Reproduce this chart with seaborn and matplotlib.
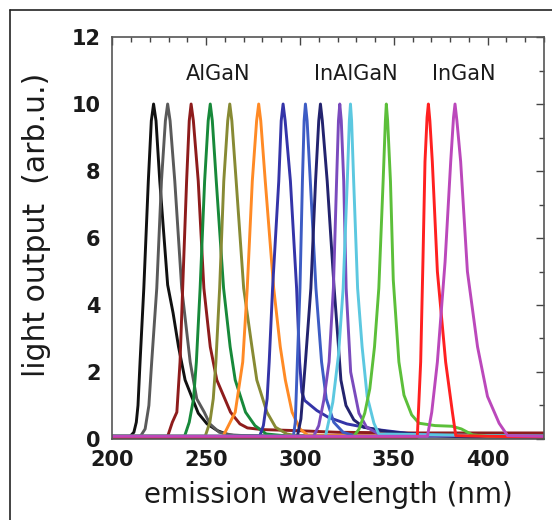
import matplotlib
matplotlib.use("Agg")
import matplotlib.pyplot as plt
from matplotlib.lines import Line2D
from matplotlib.ticker import MultipleLocator
import numpy as np
import pandas as pd
import seaborn as sns

# Emission spectra of UV LEDs (wavelength in nm, light output in arb. u.)
black_wl = [200, 209.5, 211.5, 212.8, 213.7, 214.8, 216.8, 219.2, 220.8, 222.0, 223.3, 225.3, 229.5, 232.4, 235.3, 238.8, 245.8, 250.5, 256.0, 262.0, 280.0, 430]
black_i = [0.08, 0.08, 0.20, 0.50, 1.00, 2.30, 4.50, 7.70, 9.50, 10.0, 9.50, 7.70, 4.60, 3.76, 2.75, 1.76, 0.77, 0.45, 0.25, 0.12, 0.08, 0.08]

gray_wl = [200, 215.0, 217.5, 219.5, 221.0, 223.7, 226.2, 228.3, 229.5, 230.8, 233.3, 237.0, 241.5, 245.0, 249.0, 252.0, 257.0, 265.0, 430]
gray_i = [0.08, 0.08, 0.30, 1.00, 2.30, 4.50, 7.70, 9.50, 10.0, 9.50, 7.70, 4.50, 2.30, 1.20, 0.80, 0.45, 0.20, 0.10, 0.08]

darkred_wl = [200, 229.5, 232.0, 234.4, 236.1, 237.5, 239.6, 241.0, 242.0, 243.2, 245.8, 248.8, 252.2, 255.7, 263.0, 268.0, 272.0, 280.0, 298.0, 320.0, 360.0, 430]
darkred_i = [0.08, 0.08, 0.50, 0.80, 2.30, 4.50, 7.70, 9.50, 10.0, 9.50, 7.70, 4.50, 2.75, 1.76, 0.80, 0.45, 0.33, 0.28, 0.25, 0.20, 0.18, 0.18]

green_wl = [200, 238.5, 241.0, 243.3, 244.8, 246.8, 249.2, 251.1, 252.2, 253.3, 255.4, 259.3, 262.8, 265.5, 271.0, 276.0, 282.0, 295.0, 430]
green_i = [0.08, 0.08, 0.50, 1.20, 2.30, 4.50, 7.70, 9.50, 10.0, 9.50, 7.70, 4.50, 2.75, 1.76, 0.80, 0.40, 0.15, 0.08, 0.08]

olive_wl = [200, 249.5, 252.0, 253.8, 255.2, 257.2, 259.4, 261.5, 262.6, 263.7, 266.0, 270.0, 274.4, 277.0, 282.4, 287.0, 293.0, 300.0, 430]
olive_i = [0.08, 0.08, 0.50, 1.20, 2.30, 4.50, 7.70, 9.50, 10.0, 9.50, 7.70, 4.50, 2.75, 1.76, 0.80, 0.35, 0.15, 0.08, 0.08]

orange_wl = [200, 259.0, 261.0, 265.5, 269.5, 271.9, 274.6, 276.9, 278.0, 279.1, 281.5, 286.0, 289.5, 292.2, 295.8, 300.0, 304.0, 330.0, 430]
orange_i = [0.08, 0.08, 0.30, 0.80, 2.30, 4.50, 7.70, 9.50, 10.0, 9.50, 7.70, 4.50, 2.75, 1.76, 0.80, 0.30, 0.12, 0.10, 0.06]

blue_wl = [200, 278.5, 280.5, 282.5, 283.6, 285.4, 288.7, 290.0, 291.0, 292.1, 294.9, 298.2, 299.8, 301.0, 302.5, 309.0, 315.0, 325.0, 341.0, 360.0, 380.0, 430]
blue_i = [0.08, 0.08, 0.40, 1.20, 2.30, 4.50, 7.70, 9.50, 10.0, 9.50, 7.70, 4.50, 2.30, 1.40, 1.15, 0.85, 0.65, 0.45, 0.28, 0.15, 0.10, 0.08]

royal_wl = [200, 296.5, 297.5, 298.6, 300.0, 301.3, 302.2, 302.9, 303.8, 305.5, 308.5, 311.5, 314.0, 318.0, 323.0, 330.0, 430]
royal_i = [0.08, 0.08, 0.50, 2.30, 4.50, 7.70, 9.50, 10.0, 9.50, 7.70, 4.50, 2.30, 1.20, 0.50, 0.20, 0.08, 0.08]

navy_wl = [200, 298.5, 300.5, 302.9, 305.8, 308.3, 310.0, 310.9, 311.9, 314.5, 318.2, 320.2, 321.8, 324.5, 328.7, 334.0, 346.5, 365.0, 390.0, 430]
navy_i = [0.05, 0.05, 0.60, 2.30, 4.50, 7.70, 9.50, 10.0, 9.50, 7.70, 4.50, 3.00, 1.76, 1.00, 0.57, 0.35, 0.22, 0.12, 0.06, 0.05]

purple_wl = [200, 307.3, 310.0, 312.7, 315.5, 317.8, 319.5, 320.5, 321.2, 322.0, 323.3, 324.6, 327.0, 331.4, 335.5, 343.0, 430]
purple_i = [0.08, 0.08, 0.40, 1.16, 2.30, 4.50, 7.70, 9.50, 10.0, 9.50, 7.70, 4.50, 2.00, 0.77, 0.35, 0.12, 0.08]

cyan_wl = [200, 313.6, 317.5, 320.5, 323.0, 325.2, 326.3, 326.9, 327.5, 328.6, 330.7, 333.1, 335.8, 339.4, 342.0, 430]
cyan_i = [0.08, 0.08, 1.10, 2.50, 4.50, 7.70, 9.50, 10.0, 9.50, 7.70, 4.50, 2.75, 1.27, 0.47, 0.15, 0.08]

lime_wl = [200, 328.7, 331.5, 334.5, 337.2, 339.7, 342.0, 344.3, 345.5, 346.0, 346.7, 348.2, 349.7, 352.7, 355.4, 359.5, 363.4, 372.0, 381.0, 386.0, 392.0, 400.0, 430]
lime_i = [0.08, 0.08, 0.30, 0.77, 1.50, 2.75, 4.50, 7.70, 9.50, 10.0, 9.50, 7.70, 4.75, 2.30, 1.31, 0.72, 0.47, 0.40, 0.38, 0.30, 0.12, 0.08, 0.08]

red_wl = [200, 362.5, 364.3, 365.5, 366.6, 367.7, 368.4, 369.2, 370.5, 373.2, 377.6, 381.2, 383.0, 430]
red_i = [0.05, 0.05, 2.30, 5.29, 8.28, 9.60, 10.0, 9.50, 8.28, 5.00, 2.30, 0.80, 0.10, 0.05]

magenta_wl = [200, 367.9, 370.2, 373.2, 377.3, 380.3, 381.8, 382.6, 383.6, 385.6, 389.2, 394.6, 399.9, 406.1, 410.6, 430]
magenta_i = [0.08, 0.08, 0.80, 2.30, 5.29, 8.28, 9.60, 10.0, 9.50, 8.28, 5.00, 2.75, 1.27, 0.47, 0.10, 0.08]

series = [
    ("222 nm", black_wl, black_i, "#111111"),
    ("229 nm", gray_wl, gray_i, "#5a5a5a"),
    ("242 nm", darkred_wl, darkred_i, "#8e1c1c"),
    ("252 nm", green_wl, green_i, "#17893a"),
    ("263 nm", olive_wl, olive_i, "#878a34"),
    ("278 nm", orange_wl, orange_i, "#ff8a25"),
    ("291 nm", blue_wl, blue_i, "#3434a8"),
    ("303 nm", royal_wl, royal_i, "#3d5cc4"),
    ("311 nm", navy_wl, navy_i, "#23236e"),
    ("321 nm", purple_wl, purple_i, "#7a4bbd"),
    ("327 nm", cyan_wl, cyan_i, "#5cc8e0"),
    ("346 nm", lime_wl, lime_i, "#5cbf3a"),
    ("368 nm", red_wl, red_i, "#ff2020"),
    ("383 nm", magenta_wl, magenta_i, "#bb48bb"),
]

group_labels = ["AlGaN", "InAlGaN", "InGaN"]
group_x = [256.5, 329.5, 387.0]
group_y = [10.9, 10.9, 10.9]

frames = []
for name, wl, inten, _ in series:
    frames.append(pd.DataFrame({"wavelength": wl, "output": inten, "device": name}))
df = pd.concat(frames, ignore_index=True)
palette = {name: color for name, _, _, color in series}

sns.set_theme(style="white")
plt.rcParams["font.family"] = ["DejaVu Sans"]

fig = plt.figure(figsize=(5.52, 5.20), dpi=100)
ax = fig.add_axes([0.2034, 0.1558, 0.7821, 0.7730])

sns.lineplot(data=df, x="wavelength", y="output", hue="device", palette=palette,
             estimator=None, sort=False, legend=False, linewidth=2.1, ax=ax)

ax.set_xlim(200, 430)
ax.set_ylim(0, 12)
ax.xaxis.set_major_locator(MultipleLocator(50))
ax.xaxis.set_minor_locator(MultipleLocator(10))
ax.yaxis.set_major_locator(MultipleLocator(2))
ax.yaxis.set_minor_locator(MultipleLocator(1))
ax.tick_params(which="both", direction="in", top=True, right=True,
               color="#444444", width=1.0)
ax.tick_params(which="major", length=6, labelsize=15, labelcolor="#1a1a1a")
ax.tick_params(axis="x", which="major", pad=8)
ax.tick_params(axis="y", which="major", pad=8.5)
ax.tick_params(which="minor", length=3.5)
for lab in ax.get_xticklabels() + ax.get_yticklabels():
    lab.set_fontweight("bold")
for sp in ax.spines.values():
    sp.set_color("#555555")
    sp.set_linewidth(1.2)

ax.set_xlabel("emission wavelength (nm)", fontsize=20, color="#1a1a1a", labelpad=8)
ax.set_ylabel("light output  (arb.u.)", fontsize=21.5, color="#1a1a1a")
ax.yaxis.set_label_coords(-0.142, 0.532)

for text, x, y in zip(group_labels, group_x, group_y):
    ax.text(x, y, text, ha="center", va="center", fontsize=15,
            color="#1a1a1a")

# thin frame around the figure
fig.add_artist(Line2D([10 / 552, 10 / 552], [0, 1 - 10 / 520], transform=fig.transFigure,
                      color="#222222", linewidth=1.2))
fig.add_artist(Line2D([10 / 552, 1], [1 - 10 / 520, 1 - 10 / 520], transform=fig.transFigure,
                      color="#222222", linewidth=1.2))

fig.savefig("out.png", dpi=100, facecolor="white")
